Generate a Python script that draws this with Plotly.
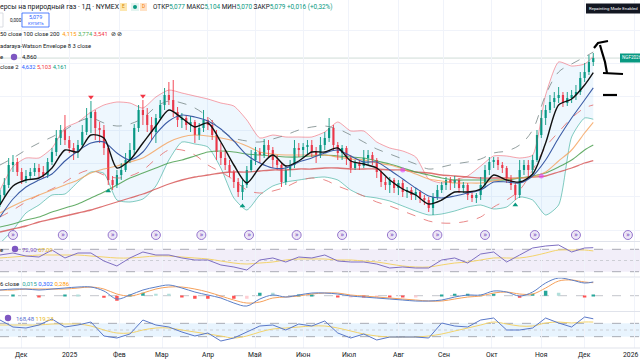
import pandas as pd
import plotly.graph_objects as go

W, HF = 640, 360
MB = 12
PH = HF - MB
FONT = "Roboto, 'Noto Sans', sans-serif"

START = "2024-11-18"
X_END = "2026-01-05 14:00"

# ---------------- candles (2-session bars) ----------------
bar_open = [2.905, 3.025, 3.175, 3.475, 3.52, 3.37, 3.25, 3.31, 3.37, 3.43,
            3.37, 3.325, 3.52, 3.67, 3.88, 4.00, 3.85, 3.73, 3.67, 3.775,
            3.97, 4.18, 4.27, 4.03, 4.00, 3.73, 3.25, 3.175, 3.325, 3.40,
            3.55, 3.70, 4.03, 4.30, 4.225, 4.075, 3.97, 4.18, 4.375, 4.525,
            4.45, 4.27, 4.15, 4.18, 4.075, 4.12, 3.925, 4.03, 4.15, 4.075,
            3.925, 3.67, 3.58, 3.475, 3.37, 3.22, 3.07, 3.175, 3.40, 3.55,
            3.67, 3.625, 3.775, 3.70, 3.55, 3.475, 3.22, 3.40, 3.475, 3.73,
            3.70, 3.745, 3.775, 3.67, 3.625, 3.775, 3.88, 4.03, 3.775, 3.655,
            3.73, 3.58, 3.43, 3.505, 3.46, 3.58, 3.625, 3.55, 3.37, 3.22,
            3.175, 3.25, 3.13, 3.205, 3.07, 3.10, 3.025, 3.07, 2.98, 2.95,
            2.83, 2.995, 3.10, 3.175, 3.25, 3.205, 3.25, 3.13, 3.175, 3.025,
            2.98, 3.025, 3.175, 3.40, 3.52, 3.55, 3.475, 3.43, 3.28, 3.175,
            3.025, 3.40, 3.475, 3.40, 3.55, 3.925, 4.18, 4.30, 4.42, 4.48,
            4.525, 4.405, 4.48, 4.525, 4.57, 4.78, 4.87, 5.02]
bar_close = [3.025, 3.175, 3.475, 3.52, 3.37, 3.25, 3.31, 3.37, 3.43, 3.37,
             3.325, 3.52, 3.67, 3.88, 4.00, 3.85, 3.73, 3.67, 3.775, 3.97,
             4.18, 4.27, 4.03, 4.00, 3.73, 3.25, 3.175, 3.325, 3.40, 3.55,
             3.70, 4.03, 4.30, 4.225, 4.075, 3.97, 4.18, 4.375, 4.525, 4.45,
             4.27, 4.15, 4.18, 4.075, 4.12, 3.925, 4.03, 4.15, 4.075, 3.925,
             3.67, 3.58, 3.475, 3.37, 3.22, 3.07, 3.175, 3.40, 3.55, 3.67,
             3.625, 3.775, 3.70, 3.55, 3.475, 3.22, 3.40, 3.475, 3.73, 3.70,
             3.745, 3.775, 3.67, 3.625, 3.775, 3.88, 4.03, 3.775, 3.655, 3.73,
             3.58, 3.43, 3.505, 3.46, 3.58, 3.625, 3.55, 3.37, 3.22, 3.175,
             3.25, 3.13, 3.205, 3.07, 3.10, 3.025, 3.07, 2.98, 2.95, 2.83,
             2.995, 3.10, 3.175, 3.25, 3.205, 3.25, 3.13, 3.175, 3.025, 2.98,
             3.025, 3.175, 3.40, 3.52, 3.55, 3.475, 3.43, 3.28, 3.175, 3.025,
             3.40, 3.475, 3.40, 3.55, 3.925, 4.18, 4.30, 4.42, 4.48, 4.525,
             4.405, 4.48, 4.525, 4.57, 4.78, 4.87, 5.02, 5.079]
bar_high = [3.10, 3.28, 3.58, 3.625, 3.58, 3.43, 3.40, 3.43, 3.505, 3.49,
            3.46, 3.58, 3.73, 4.00, 4.075, 4.225, 3.91, 3.805, 3.85, 4.075,
            4.33, 4.435, 4.30, 4.12, 4.075, 3.775, 3.31, 3.40, 3.505, 3.655,
            3.805, 4.09, 4.375, 4.45, 4.33, 4.195, 4.24, 4.45, 4.63, 4.72,
            4.75, 4.345, 4.255, 4.225, 4.21, 4.15, 4.105, 4.30, 4.195, 4.15,
            4.00, 3.805, 3.70, 3.55, 3.40, 3.28, 3.25, 3.46, 3.70, 3.745,
            3.73, 3.865, 3.85, 3.745, 3.625, 3.505, 3.475, 3.55, 3.85, 3.805,
            3.805, 3.85, 3.85, 3.745, 3.895, 3.97, 4.18, 4.075, 3.82, 3.775,
            3.76, 3.625, 3.55, 3.55, 3.70, 3.70, 3.67, 3.58, 3.40, 3.295,
            3.295, 3.28, 3.25, 3.25, 3.145, 3.145, 3.13, 3.10, 3.025, 2.995,
            3.055, 3.175, 3.22, 3.295, 3.295, 3.31, 3.28, 3.22, 3.205, 3.07,
            3.055, 3.295, 3.475, 3.595, 3.595, 3.595, 3.52, 3.46, 3.325, 3.205,
            3.55, 3.55, 3.55, 3.625, 4.00, 4.30, 4.375, 4.525, 4.57, 4.645,
            4.57, 4.57, 4.60, 4.675, 4.87, 5.005, 5.125, 5.155]
bar_low = [2.845, 2.98, 3.13, 3.37, 3.31, 3.19, 3.205, 3.25, 3.31, 3.295,
           3.28, 3.28, 3.475, 3.61, 3.775, 3.775, 3.655, 3.55, 3.58, 3.73,
           3.925, 3.955, 3.85, 3.805, 3.625, 3.175, 3.10, 3.13, 3.25, 3.37,
           3.505, 3.625, 3.97, 4.075, 3.97, 3.85, 3.805, 4.15, 4.30, 4.375,
           4.195, 4.045, 4.03, 4.00, 3.97, 3.805, 3.85, 3.97, 4.00, 3.85,
           3.55, 3.475, 3.40, 3.295, 3.13, 2.995, 2.95, 3.13, 3.37, 3.475,
           3.505, 3.58, 3.595, 3.43, 3.40, 3.145, 3.175, 3.295, 3.43, 3.595,
           3.595, 3.625, 3.595, 3.505, 3.58, 3.70, 3.82, 3.70, 3.55, 3.55,
           3.475, 3.355, 3.40, 3.40, 3.43, 3.475, 3.475, 3.28, 3.145, 3.10,
           3.055, 3.055, 3.025, 2.995, 2.98, 2.95, 2.95, 2.905, 2.875, 2.77,
           2.725, 2.95, 3.055, 3.10, 3.10, 3.13, 3.055, 3.055, 2.95, 2.92,
           2.905, 2.95, 3.13, 3.325, 3.43, 3.40, 3.355, 3.205, 3.10, 2.95,
           2.98, 3.325, 3.295, 3.325, 3.52, 3.88, 4.075, 4.255, 4.33, 4.405,
           4.345, 4.36, 4.405, 4.45, 4.525, 4.72, 4.825, 4.96]

# ---------------- overlay lines (sampled every 3rd bar + last) ----------------
fast_ma = [2.875, 3.16, 3.25, 3.28, 3.43, 3.70, 3.67, 3.925, 3.88, 3.43,
           3.55, 3.805, 4.06, 4.30, 4.18, 4.045, 4.105, 3.82, 3.475, 3.205,
           3.445, 3.625, 3.46, 3.535, 3.67, 3.67, 3.73, 3.535, 3.49, 3.43,
           3.25, 3.115, 3.025, 2.89, 2.95, 3.07, 3.07, 3.115, 3.325, 3.25,
           3.22, 3.34, 3.805, 4.375, 4.465, 4.675, 4.86]
bb_basis = [2.695, 2.965, 3.145, 3.25, 3.34, 3.535, 3.685, 3.805, 3.82, 3.655,
            3.55, 3.67, 3.94, 4.135, 4.225, 4.195, 4.135, 4.015, 3.835, 3.625,
            3.505, 3.43, 3.43, 3.52, 3.58, 3.655, 3.70, 3.61, 3.52, 3.52,
            3.40, 3.265, 3.13, 3.01, 2.98, 3.01, 3.055, 3.10, 3.22, 3.22,
            3.205, 3.31, 3.55, 3.88, 4.18, 4.45, 4.632]
bb_upper = [3.10, 3.45, 3.58, 3.58, 3.73, 4.03, 4.12, 4.27, 4.375, 4.42,
            4.405, 4.33, 4.495, 4.60, 4.555, 4.51, 4.465, 4.405, 4.36, 4.15,
            3.88, 3.925, 3.895, 3.895, 3.895, 3.97, 4.12, 3.985, 3.985, 3.82,
            3.73, 3.685, 3.595, 3.265, 3.205, 3.25, 3.31, 3.46, 3.61, 3.61,
            3.58, 3.625, 4.525, 5.02, 4.96, 4.99, 5.103]
bb_lower = [2.30, 2.50, 2.755, 2.875, 3.025, 3.04, 3.22, 3.37, 3.35, 2.95,
            2.92, 2.965, 3.16, 3.55, 3.82, 3.79, 3.745, 3.43, 2.98, 2.80,
            3.025, 3.16, 3.22, 3.25, 3.28, 3.295, 3.25, 3.10, 3.01, 2.98,
            2.935, 2.86, 2.785, 2.725, 2.74, 2.785, 2.845, 2.875, 2.815, 2.845,
            2.995, 2.95, 2.725, 2.875, 3.895, 4.18, 4.161]
ema50 = [2.755, 2.86, 2.95, 3.025, 3.10, 3.175, 3.25, 3.355, 3.415, 3.46,
         3.52, 3.58, 3.70, 3.82, 3.895, 3.925, 3.91, 3.88, 3.835, 3.76,
         3.67, 3.64, 3.625, 3.625, 3.625, 3.625, 3.595, 3.565, 3.55, 3.505,
         3.475, 3.415, 3.34, 3.265, 3.235, 3.205, 3.205, 3.205, 3.235, 3.265,
         3.28, 3.295, 3.37, 3.535, 3.70, 3.955, 4.115]
ema100 = [2.545, 2.59, 2.65, 2.695, 2.77, 2.83, 2.89, 2.98, 3.07, 3.175,
          3.28, 3.355, 3.43, 3.505, 3.55, 3.61, 3.67, 3.685, 3.67, 3.64,
          3.625, 3.61, 3.595, 3.595, 3.61, 3.625, 3.61, 3.595, 3.58, 3.535,
          3.49, 3.43, 3.37, 3.325, 3.28, 3.25, 3.25, 3.25, 3.25, 3.25,
          3.28, 3.31, 3.355, 3.445, 3.55, 3.70, 3.774]
ema200 = [2.47, 2.515, 2.56, 2.62, 2.665, 2.71, 2.755, 2.80, 2.86, 2.92,
          2.98, 3.04, 3.115, 3.19, 3.25, 3.295, 3.325, 3.355, 3.37, 3.37,
          3.385, 3.40, 3.40, 3.415, 3.415, 3.43, 3.43, 3.415, 3.415, 3.415,
          3.40, 3.40, 3.37, 3.355, 3.325, 3.31, 3.295, 3.28, 3.28, 3.28,
          3.28, 3.295, 3.31, 3.37, 3.43, 3.505, 3.541]
nw_upper = [3.475, 3.58, 3.70, 3.805, 3.895, 4.00, 4.12, 4.18, 4.105, 4.06,
            4.09, 4.18, 4.345, 4.435, 4.405, 4.33, 4.195, 4.00, 3.88, 3.835,
            3.82, 3.865, 3.925, 4.00, 4.045, 4.06, 4.015, 3.925, 3.82, 3.715,
            3.64, 3.565, 3.49, 3.415, 3.445, 3.49, 3.52, 3.565, 3.655, 3.685,
            3.775, 4.00, 4.525, 4.87, 4.99, 5.095, 5.17]
nw_lower = [2.695, 2.80, 2.92, 3.025, 3.115, 3.22, 3.34, 3.40, 3.325, 3.28,
            3.31, 3.40, 3.565, 3.70, 3.70, 3.625, 3.475, 3.37, 3.25, 3.10,
            3.055, 3.085, 3.145, 3.235, 3.28, 3.25, 3.16, 3.085, 3.01, 2.92,
            2.86, 2.785, 2.71, 2.635, 2.605, 2.605, 2.635, 2.695, 2.845, 2.95,
            3.10, 3.40, 3.745, 3.97, 4.18, 4.33, 4.375]

# ---------------- oscillators ----------------
rsi = [59.8, 63.4, 58.0, 56.2, 68.7, 54.5, 63.4, 63.4, 49.1, 40.2,
       54.5, 65.2, 59.8, 59.8, 54.5, 50.9, 50.9, 42.0, 38.4, 33.0,
       50.9, 54.5, 47.3, 56.2, 54.5, 59.8, 49.1, 47.3, 47.3, 43.7,
       36.6, 38.4, 36.6, 36.6, 50.9, 54.5, 45.5, 61.6, 65.2, 47.3,
       59.8, 72.3, 75.9, 77.7, 65.2, 72.3, 72.9]
rsi_ma = [54.5, 56.2, 58.0, 59.8, 59.8, 59.8, 59.8, 58.0, 56.2, 54.5,
          54.5, 56.2, 58.0, 58.0, 56.2, 54.5, 52.7, 49.1, 45.5, 43.7,
          45.5, 47.3, 50.9, 52.7, 52.7, 52.7, 50.9, 50.9, 49.1, 47.3,
          43.7, 40.2, 38.4, 38.4, 42.0, 45.5, 47.3, 50.9, 54.5, 54.5,
          54.5, 58.0, 63.4, 68.7, 68.7, 68.7, 67.09]
macd = [0.125, 0.147, 0.147, 0.125, 0.147, 0.169, 0.191, 0.191, 0.103, -0.073,
        0.015, 0.125, 0.191, 0.235, 0.169, 0.081, 0.015, -0.051, -0.161, -0.227,
        -0.073, 0.015, -0.029, 0.015, 0.059, 0.059, 0.037, -0.007, -0.029, -0.051,
        -0.073, -0.095, -0.117, -0.117, -0.095, -0.029, 0.015, 0.015, 0.103, 0.081,
        -0.007, 0.081, 0.279, 0.389, 0.345, 0.279, 0.302]
macd_signal = [0.125, 0.125, 0.147, 0.147, 0.147, 0.147, 0.169, 0.191, 0.147, 0.037,
               -0.007, 0.059, 0.147, 0.191, 0.191, 0.147, 0.081, -0.007, -0.095, -0.161,
               -0.139, -0.051, -0.029, -0.007, 0.037, 0.059, 0.059, 0.015, -0.007, -0.029,
               -0.051, -0.073, -0.095, -0.117, -0.117, -0.073, -0.029, -0.007, 0.059, 0.081,
               0.037, 0.037, 0.169, 0.323, 0.345, 0.301, 0.286]
cci = [150, 45, 30, 75, 165, 45, 75, 120, -90, -120,
       -60, 150, 75, 45, -30, -90, -45, -165, -120, -30,
       60, 75, 0, 90, 60, 135, -45, -120, -60, -150,
       -105, -105, -105, -120, 105, 60, 45, 150, 180, 0,
       0, 30, 180, 105, 45, 195, 168.48]
cci_ma = [75, 75, 75, 75, 90, 90, 90, 60, 0, -45,
          -45, 0, 30, 30, 0, -30, -60, -90, -120, -90,
          -30, 15, 30, 45, 60, 60, 30, -15, -60, -90,
          -105, -105, -105, -90, -60, -15, 30, 75, 120, 90,
          60, 60, 105, 120, 105, 120, 119.23]

# ---------------- signals / events ----------------
sell_idx, sell_val = [21, 33], [4.495, 4.51]
buy_idx, buy_val = [25, 56, 119], [3.085, 2.86, 2.875]
cross_idx, cross_val = [93, 125], [3.40, 3.31]
expiry_dates = ["2024-11-26", "2024-12-27", "2025-01-29", "2025-02-26", "2025-03-27",
                "2025-04-28", "2025-05-28", "2025-06-26", "2025-07-29", "2025-08-27",
                "2025-09-26", "2025-10-29", "2025-11-25", "2025-12-29"]
month_ticks = ["2024-12-02", "2025-01-01", "2025-02-03", "2025-03-03", "2025-04-01",
               "2025-05-01", "2025-06-02", "2025-07-01", "2025-08-01", "2025-09-01",
               "2025-10-01", "2025-11-03", "2025-12-01", "2026-01-01"]
month_labels = ["Дек", "2025", "Фев", "Мар", "Апр", "Май", "Июн", "Июл", "Авг",
                "Сен", "Окт", "Ноя", "Дек", "2026"]

bar_dates = pd.bdate_range(START, periods=len(bar_close), freq="2B")
line_idx = list(range(0, len(bar_close), 3)) + [len(bar_close) - 1]
line_dates = bar_dates[line_idx]

# axis ranges
P_HI, P_LO = 5.95, 2.335
RSI_R = [21.42, 83.04]
MACD_R = [-0.3366, 0.4004]
CCI_R = [-270, 270]
DAY_MS = 86400000


def dom(top, bot):
    return [1 - bot / PH, 1 - top / PH]


fig = go.Figure()

# Bollinger fill
fig.add_trace(go.Scatter(x=line_dates, y=bb_upper, mode="lines",
                         line=dict(color="rgba(242,54,69,0.45)", width=1, shape="spline", smoothing=0.6),
                         xaxis="x", yaxis="y"))
fig.add_trace(go.Scatter(x=line_dates, y=bb_lower, mode="lines", fill="tonexty",
                         fillcolor="rgba(33,150,243,0.08)",
                         line=dict(color="rgba(8,153,129,0.5)", width=1, shape="spline", smoothing=0.6),
                         xaxis="x", yaxis="y"))
# NW envelope
fig.add_trace(go.Scatter(x=line_dates, y=nw_upper, mode="lines",
                         line=dict(color="rgba(120,135,135,0.8)", width=1, dash="dash", shape="spline"),
                         xaxis="x", yaxis="y"))
fig.add_trace(go.Scatter(x=line_dates, y=nw_lower, mode="lines",
                         line=dict(color="rgba(229,115,115,0.85)", width=1, dash="dash", shape="spline"),
                         xaxis="x", yaxis="y"))
# EMAs
for vals, col, wd in [(ema200, "rgba(214,80,80,0.8)", 1.3), (ema100, "rgba(76,160,80,0.85)", 1.1),
                      (ema50, "rgba(245,160,90,0.8)", 1.1)]:
    fig.add_trace(go.Scatter(x=line_dates, y=vals, mode="lines",
                             line=dict(color=col, width=wd, shape="spline", smoothing=0.8),
                             xaxis="x", yaxis="y"))

# candles: wicks + thin bodies
for up, col in [(True, "#089981"), (False, "#f23645")]:
    sel = [i for i in range(len(bar_close)) if (bar_close[i] >= bar_open[i]) == up]
    wx, wy = [], []
    for i in sel:
        wx += [bar_dates[i], bar_dates[i], None]
        wy += [bar_low[i], bar_high[i], None]
    fig.add_trace(go.Scatter(x=wx, y=wy, mode="lines", line=dict(color=col, width=0.9),
                             xaxis="x", yaxis="y"))
    fig.add_trace(go.Bar(x=bar_dates[sel],
                         y=[max(abs(bar_close[i] - bar_open[i]), 0.01) for i in sel],
                         base=[min(bar_open[i], bar_close[i]) for i in sel],
                         width=1.0 * DAY_MS, marker=dict(color=col, line=dict(width=0)),
                         xaxis="x", yaxis="y"))

fig.add_trace(go.Scatter(x=line_dates, y=bb_basis, mode="lines",
                         line=dict(color="#3b5ba5", width=1.1, shape="spline", smoothing=0.8),
                         xaxis="x", yaxis="y"))
fig.add_trace(go.Scatter(x=line_dates, y=fast_ma, mode="lines",
                         line=dict(color="#111111", width=1.4, shape="spline", smoothing=0.8),
                         xaxis="x", yaxis="y"))

# signal markers
fig.add_trace(go.Scatter(x=bar_dates[sell_idx], y=sell_val, mode="markers",
                         marker=dict(symbol="triangle-down", size=5, color="#f23645"), xaxis="x", yaxis="y"))
fig.add_trace(go.Scatter(x=bar_dates[buy_idx], y=buy_val, mode="markers",
                         marker=dict(symbol="triangle-up", size=5, color="#089981"), xaxis="x", yaxis="y"))
fig.add_trace(go.Scatter(x=bar_dates[cross_idx], y=cross_val, mode="markers",
                         marker=dict(symbol="circle", size=5, color="rgba(224,64,251,0.6)"), xaxis="x", yaxis="y"))

# expiration icons near bottom of price pane
icon_y = [P_LO + (P_HI - P_LO) * 6 / 241] * len(expiry_dates)
fig.add_trace(go.Scatter(x=expiry_dates, y=icon_y, mode="markers+text", text=["»"] * len(expiry_dates),
                         textposition="middle center", textfont=dict(size=8, color="#7e57c2", family=FONT),
                         marker=dict(symbol="circle", size=9, color="rgba(237,231,246,1)",
                                     line=dict(color="#9575cd", width=1)),
                         cliponaxis=False, xaxis="x", yaxis="y"))

# RSI
fig.add_trace(go.Scatter(x=line_dates, y=rsi_ma, mode="lines",
                         line=dict(color="#f3d36b", width=1, shape="spline"), xaxis="x2", yaxis="y2"))
fig.add_trace(go.Scatter(x=line_dates, y=rsi, mode="lines",
                         line=dict(color="#7e6fc2", width=1), xaxis="x2", yaxis="y2"))

# MACD
hist = [m - s for m, s in zip(macd, macd_signal)]
hcol = []
for i, h in enumerate(hist):
    prev = hist[i - 1] if i > 0 else h
    if h >= 0:
        hcol.append("#26a69a" if h >= prev else "#b2dfdb")
    else:
        hcol.append("#ff5252" if h < prev else "#ffcdd2")
fig.add_trace(go.Bar(x=line_dates, y=hist, marker=dict(color=hcol, line=dict(width=0)),
                     width=1.6 * DAY_MS, xaxis="x3", yaxis="y3"))
fig.add_trace(go.Scatter(x=line_dates, y=macd_signal, mode="lines",
                         line=dict(color="#f5a05a", width=1, shape="spline"), xaxis="x3", yaxis="y3"))
fig.add_trace(go.Scatter(x=line_dates, y=macd, mode="lines",
                         line=dict(color="#5b7fc7", width=1, shape="spline"), xaxis="x3", yaxis="y3"))

# CCI
fig.add_trace(go.Scatter(x=line_dates, y=cci_ma, mode="lines",
                         line=dict(color="#f3d36b", width=1, shape="spline"), xaxis="x4", yaxis="y4"))
fig.add_trace(go.Scatter(x=line_dates, y=cci, mode="lines",
                         line=dict(color="#5a78c8", width=1), xaxis="x4", yaxis="y4"))

grid_c = "#f0f3fa"
xcommon = dict(range=[START, X_END], rangebreaks=[dict(bounds=["sat", "mon"])],
               tickmode="array", tickvals=month_ticks, ticktext=month_labels,
               showgrid=True, gridcolor=grid_c, zeroline=False, showline=False, ticks="",
               showticklabels=False, domain=[0, 1])

shapes = []


def pline(ypx, col="#e0e3eb", w=1, dash="solid"):
    shapes.append(dict(type="line", xref="paper", yref="paper", x0=0, x1=1,
                       y0=1 - ypx / PH, y1=1 - ypx / PH, line=dict(color=col, width=w, dash=dash)))


def hline(yref, val, col, dash="dash", w=0.8):
    shapes.append(dict(type="line", xref="paper", yref=yref, x0=0, x1=1, y0=val, y1=val,
                       line=dict(color=col, width=w, dash=dash), layer="below"))


def band(yref, v0, v1, fill):
    shapes.append(dict(type="rect", xref="paper", yref=yref, x0=0, x1=1, y0=v0, y1=v1,
                       fillcolor=fill, line=dict(width=0), layer="below"))


def rect(x0, y0, x1, y1, fill="rgba(0,0,0,0)", line="rgba(0,0,0,0)", lw=0.8):
    shapes.append(dict(type="rect", xref="paper", yref="paper", x0=x0 / W, x1=x1 / W,
                       y0=1 - y1 / PH, y1=1 - y0 / PH, fillcolor=fill, line=dict(color=line, width=lw)))


def circ(cx, cy, r, fill, line="rgba(0,0,0,0)"):
    shapes.append(dict(type="circle", xref="paper", yref="paper", x0=(cx - r) / W, x1=(cx + r) / W,
                       y0=1 - (cy + r) / PH, y1=1 - (cy - r) / PH, fillcolor=fill, line=dict(color=line, width=0.8)))


def stroke(pts, w=2.2):
    p = "M " + " L ".join(f"{x / W},{1 - y / PH}" for x, y in pts)
    shapes.append(dict(type="path", xref="paper", yref="paper", path=p,
                       line=dict(color="#000000", width=w)))


# bands and level lines
band("y2", 30, 70, "rgba(126,87,194,0.10)")
hline("y2", 70, "#9598a1")
hline("y2", 50, "#c3c5cc", dash="dot")
hline("y2", 30, "#9598a1")
hline("y3", 0, "#b2b5be")
band("y4", -100, 100, "rgba(33,150,243,0.10)")
hline("y4", 100, "#9598a1")
hline("y4", 0, "#c3c5cc", dash="dot")
hline("y4", -100, "#9598a1")
# last price line
shapes.append(dict(type="line", xref="paper", yref="y", x0=0, x1=1, y0=bar_close[-1], y1=bar_close[-1],
                   line=dict(color="#cfdcd7", width=1), layer="below"))
# pane separators
for yy in (241.5, 277, 311.5, 348):
    pline(yy)

annotations = []


def txt(xpx, ypx, s, size=6, color="#131722", anchor="left"):
    annotations.append(dict(x=xpx / W, y=1 - ypx / PH, xref="paper", yref="paper", text=s,
                            showarrow=False, xanchor=anchor, yanchor="middle", borderpad=0,
                            font=dict(size=size, color=color, family=FONT)))


# month labels of the time axis
for d, lab in zip(month_ticks, month_labels):
    annotations.append(dict(x=d, xref="x4", y=1 - 355 / PH, yref="paper", text=lab, showarrow=False,
                            xanchor="center", yanchor="middle", borderpad=0,
                            xshift=-4 if lab == "2026" else 0,
                            font=dict(size=6.8, color="#131722", family=FONT)))

G, B, O, R, Y, P = "#089981", "#2962ff", "#ff9800", "#f23645", "#e8b923", "#7e57c2"


def sp(s, c):
    return f"<span style='color:{c}'>{s}</span>"


# header row 1
txt(-1, 7, "ерсы на природный газ · 1Д · NYMEX", size=6.9)
rect(120, 3, 127, 11, fill="#fde7b0")
txt(123.5, 7, "E", size=4.8, color="#d68a00", anchor="center")
rect(131, 3, 139, 11, fill="#e3f4f0")
circ(135, 7, 2, G)
rect(140, 3, 147, 11, fill="#ffe2c6")
txt(143.5, 7, "D", size=4.8, color="#f57c00", anchor="center")
txt(152, 7, "ОТКР" + sp("5,077", G) + " МАКС" + sp("5,104", G) + " МИН" + sp("5,070", G)
    + " ЗАКР" + sp("5,079", G) + " " + sp("+0,016 (+0,32%)", G), size=6.4)
# row 2
rect(-6, 13, 3, 27, line="#d1d4dc")
txt(9, 20, "0,000", size=4.6)
rect(22, 13, 49, 27, line=B)
txt(35.5, 17.3, "5,079", size=5.4, color=B, anchor="center")
txt(35.5, 23.8, "КУПИТЬ", size=4.0, color=B, anchor="center")
# indicator legends
txt(-1, 34, "50 close 100 close 200 &nbsp;" + sp("4,115", O) + " " + sp("3,774", "#4caf50") + " "
    + sp("3,541", R) + " &nbsp;⊘ ⊘", size=5.8)
txt(-1, 46, "adaraya-Watson Envelope 8 3 close", size=5.8)
txt(-1, 57, "e", size=6)
circ(14, 57, 3.2, P)
txt(21, 57, "4,860", size=6)
txt(-1, 67, "close 2 &nbsp;" + sp("4,632", B) + " " + sp("5,103", R) + " " + sp("4,161", G), size=5.8)
# pane legends
txt(-1, 249, "e", size=6)
circ(15, 249, 3.2, P)
txt(21, 249, sp("72,90", P) + " " + sp("67,09", Y), size=6)
txt(-1, 283, "6 close &nbsp;" + sp("0,015", "#26a69a") + " " + sp("0,302", B) + " " + sp("0,286", O), size=6)
circ(8, 318, 3.2, P)
txt(15, 318, sp("168,48", "#5a6fd0") + " " + sp("119,23", Y), size=6)
# top-right labels
rect(586, 3.5, 645, 13.5, fill="#131722")
txt(588, 8.5, "Repainting Mode Enabled", size=4.3, color="#ffffff")
rect(620, 53.5, 645, 62.5, fill=G)
txt(621, 58, "NGF2026", size=4.6, color="#ffffff")

# hand-drawn marks
stroke([(607, 73), (605, 62), (602, 52), (600, 45)])
stroke([(594, 48), (598, 43), (608, 41)])
stroke([(603, 73), (623, 74)])
stroke([(603, 95), (617, 95)])

fig.update_layout(
    width=W, height=HF, margin=dict(l=0, r=0, t=0, b=MB),
    paper_bgcolor="#ffffff", plot_bgcolor="#ffffff",
    showlegend=False, hovermode=False, barmode="overlay",
    xaxis=dict(xcommon, anchor="y"),
    xaxis2=dict(xcommon, anchor="y2", matches="x"),
    xaxis3=dict(xcommon, anchor="y3", matches="x"),
    xaxis4=dict(xcommon, anchor="y4", matches="x"),
    yaxis=dict(domain=dom(0, 241), range=[P_LO, P_HI], tickmode="array",
               tickvals=[2.5, 3.0, 3.5, 4.0, 4.5, 5.0, 5.5], showticklabels=False,
               showgrid=True, gridcolor=grid_c, zeroline=False),
    yaxis2=dict(domain=dom(242, 276.5), range=RSI_R, showticklabels=False, showgrid=False, zeroline=False),
    yaxis3=dict(domain=dom(277.5, 311), range=MACD_R, showticklabels=False, showgrid=False, zeroline=False),
    yaxis4=dict(domain=dom(312, 348), range=CCI_R, showticklabels=False, showgrid=False, zeroline=False),
    shapes=shapes, annotations=annotations,
)

fig.write_html("out.html", config={"displayModeBar": False},
               post_script="document.body.style.margin='0px';document.body.style.padding='0px';"
                           "document.body.style.overflow='hidden';")
